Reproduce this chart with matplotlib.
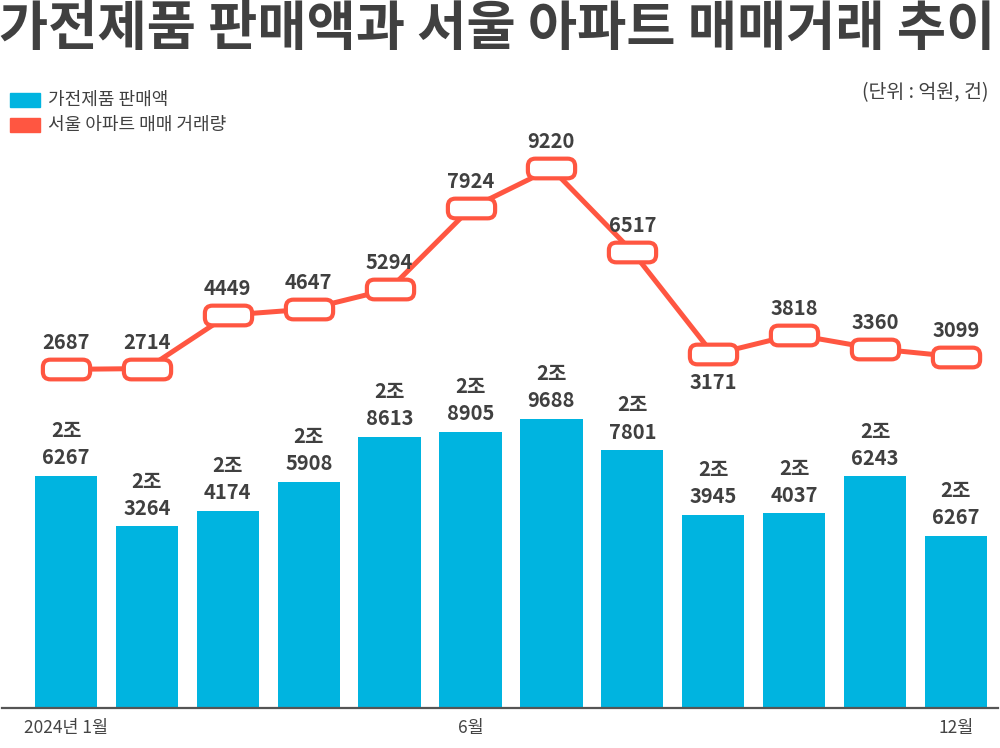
import matplotlib
matplotlib.use("Agg")
import matplotlib.pyplot as plt
from matplotlib.patches import BoxStyle, Rectangle
from matplotlib.markers import MarkerStyle

plt.rcParams['font.family'] = ['Noto Sans CJK KR', 'DejaVu Sans']

# data
months = ['2024년 1월', '2월', '3월', '4월', '5월', '6월', '7월', '8월', '9월', '10월', '11월', '12월']
tick_idx = [0, 5, 11]
# bar heights as drawn (억원); the last bar is drawn lower than its label says
sales = [26267, 23264, 24174, 25908, 28613, 28905, 29688, 27801, 23945, 24037, 26243, 22680]
sales_labels = ['6267', '3264', '4174', '5908', '8613', '8905', '9688', '7801', '3945', '4037', '6243', '6267']
deals = [2687, 2714, 4449, 4647, 5294, 7924, 9220, 6517, 3171, 3818, 3360, 3099]
deal_label_below = [False] * 8 + [True] + [False] * 3

BAR_COLOR = '#00B4E0'
LINE_COLOR = '#FF5641'
TEXT_COLOR = '#404040'

W, H = 1000, 748
fig = plt.figure(figsize=(10, 7.48), dpi=100)

# axes: x from 2px to 998px, y from 140px down to 708px
ax = fig.add_axes([2 / W, (H - 708) / H, 996 / W, (708 - 140) / H])
ax2 = ax.twinx()

x = list(range(len(months)))
ax.bar(x, sales, width=0.77, color=BAR_COLOR, zorder=2)
ax.set_xlim(-0.791, 11.52)
ax.set_ylim(12420, 46300)

for xi, v, lab in zip(x, sales, sales_labels):
    ax.annotate(lab, (xi, v), xytext=(0, 13), textcoords='offset points',
                ha='center', va='center', fontsize=14.5, fontweight='bold', color=TEXT_COLOR)
    ax.annotate('2조', (xi, v), xytext=(0, 32.5), textcoords='offset points',
                ha='center', va='center', fontsize=14.5, fontweight='bold', color=TEXT_COLOR)

# rounded rectangle marker
box_path = BoxStyle("Round", pad=0, rounding_size=0.38)(-1.2, -0.5, 2.4, 1.0, 1.0)
marker = MarkerStyle(box_path)

ax2.plot(x, deals, color=LINE_COLOR, lw=3.6, marker=marker, markersize=34,
         markerfacecolor='white', markeredgecolor=LINE_COLOR, markeredgewidth=3, zorder=3)
ax2.set_ylim(-8319, 10142)

for xi, v, below in zip(x, deals, deal_label_below):
    dy = -20 if below else 19
    ax2.annotate(f'{v}', (xi, v), xytext=(0, dy), textcoords='offset points',
                 ha='center', va='center', fontsize=14.5, fontweight='bold', color=TEXT_COLOR)

for a in (ax, ax2):
    for s in ('top', 'right', 'left'):
        a.spines[s].set_visible(False)
    a.set_yticks([])
ax2.spines['bottom'].set_visible(False)
ax.spines['bottom'].set_color('#555555')
ax.spines['bottom'].set_linewidth(1.6)

ax.set_xticks(tick_idx)
ax.set_xticklabels(['2024년 1월', '6월', '12월'])
ax.tick_params(axis='x', length=0, pad=8, labelsize=12.5, labelcolor='#444444')

# title
fig.text(0.497, 1 - 29 / H, '가전제품 판매액과 서울 아파트 매매거래 추이', ha='center', va='center',
         fontsize=38.5, fontweight='black', color=TEXT_COLOR)

# legend drawn by hand
fig.patches.append(Rectangle((10 / W, 1 - 107 / H), 30 / W, 14 / H, transform=fig.transFigure,
                             color=BAR_COLOR, figure=fig))
fig.patches.append(Rectangle((10 / W, 1 - 132 / H), 30 / W, 14 / H, transform=fig.transFigure,
                             color=LINE_COLOR, figure=fig))
fig.text(48 / W, 1 - 100 / H, '가전제품 판매액', ha='left', va='center', fontsize=13, color=TEXT_COLOR)
fig.text(48 / W, 1 - 125 / H, '서울 아파트 매매 거래량', ha='left', va='center', fontsize=13, color=TEXT_COLOR)
fig.text(988 / W, 1 - 93 / H, '(단위 : 억원, 건)', ha='right', va='center', fontsize=14, color=TEXT_COLOR)

fig.savefig('out.png', dpi=100)
